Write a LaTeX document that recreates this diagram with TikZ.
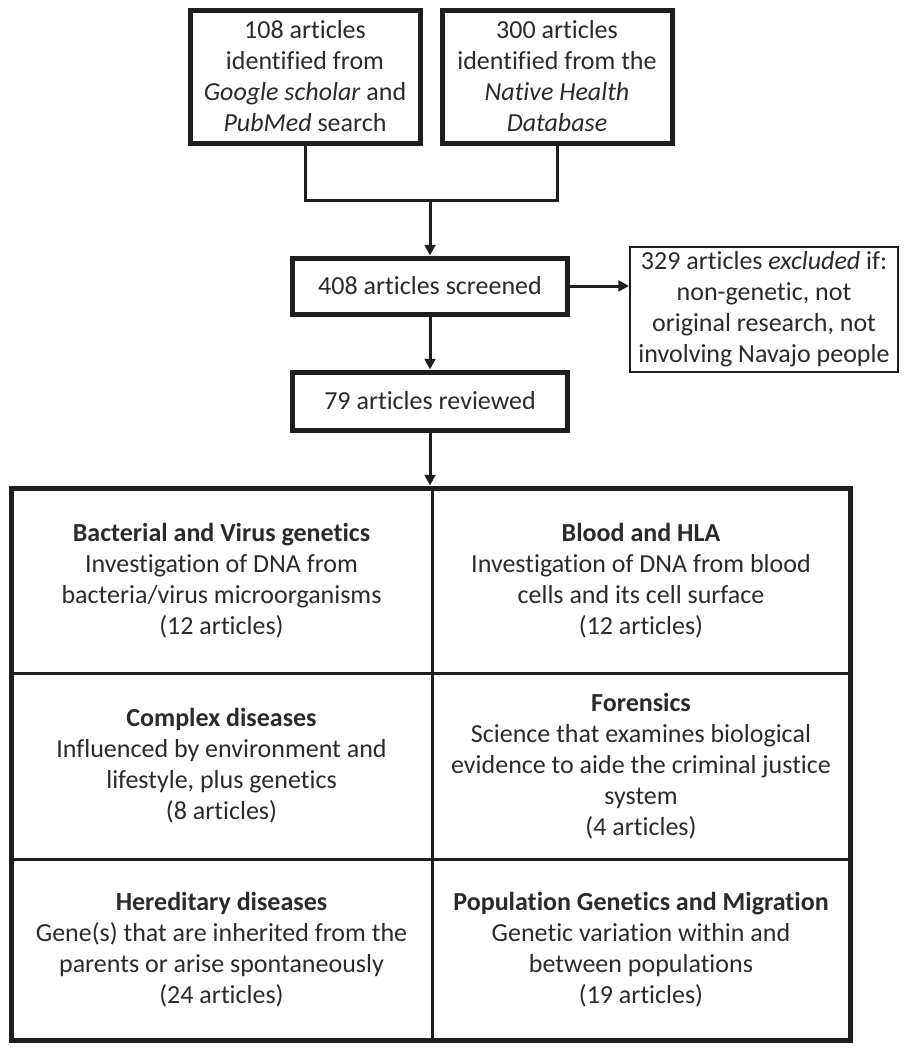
\documentclass[tikz,border=0pt]{standalone}
\usepackage{fontspec}
\setmainfont[Ligatures={NoCommon}]{Carlito}
\usetikzlibrary{arrows.meta}
\definecolor{ln}{HTML}{1E1E1E}
\definecolor{txt}{HTML}{2A2A2A}
\begin{document}
\begin{tikzpicture}[x=0.75pt,y=-0.75pt,
  every node/.style={font=\fontsize{19.5}{23.25}\selectfont, text=txt, align=center, inner sep=0pt},
  thickbox/.style={draw=ln, line width=3.75pt},
  thinbox/.style={draw=ln, line width=1.5pt},
  cell/.style={draw=ln, line width=2.25pt},
  conn/.style={draw=ln, line width=2.25pt},
  arr/.style={conn, -{Triangle[length=8pt,width=8pt]}}
]
\useasboundingbox (0,0) rectangle (908,1050);

\node[thickbox, minimum width=172.5pt, minimum height=99.75pt] (b1) at (305,76.5)
  {108 articles\\identified from\\\textit{Google scholar} and\\\textit{PubMed} search};
\node[thickbox, minimum width=172.5pt, minimum height=99.75pt] (b2) at (557,76.5)
  {300 articles\\identified from the\\\textit{Native Health}\\\textit{Database}};

\node[thickbox, minimum width=206.25pt, minimum height=42pt] (s) at (430,286) {408 articles screened};
\node[thinbox, minimum width=201pt, minimum height=93.75pt] (x) at (764,309.5)
  {329 articles \textit{excluded} if:\\non-genetic, not\\original research, not\\involving Navajo people};
\node[thickbox, minimum width=206.25pt, minimum height=43.5pt] (r) at (430,401) {79 articles reviewed};

% table cells
\node[cell, minimum width=315.75pt, minimum height=138.75pt] (c11) at (221.5,580.5)
  {\textbf{Bacterial and Virus genetics}\\Investigation of DNA from\\bacteria/virus microorganisms\\(12 articles)};
\node[cell, minimum width=313.5pt, minimum height=138.75pt] (c12) at (641,580.5)
  {\textbf{Blood and HLA}\\Investigation of DNA from blood\\cells and its cell surface\\(12 articles)};
\node[cell, minimum width=315.75pt, minimum height=139.5pt] (c21) at (221.5,766)
  {\textbf{Complex diseases}\\Influenced by environment and\\lifestyle, plus genetics\\(8 articles)};
\node[cell, minimum width=313.5pt, minimum height=139.5pt] (c22) at (641,766)
  {\textbf{Forensics}\\Science that examines biological\\evidence to aide the criminal justice\\system\\(4 articles)};
\node[cell, minimum width=315.75pt, minimum height=135.75pt] (c31) at (221.5,949.5)
  {\textbf{Hereditary diseases}\\Gene(s) that are inherited from the\\parents or arise spontaneously\\(24 articles)};
\node[cell, minimum width=313.5pt, minimum height=135.75pt] (c32) at (641,949.5)
  {\textbf{Population Genetics and Migration}\\Genetic variation within and\\between populations\\(19 articles)};
\node[thickbox, minimum width=629.25pt, minimum height=414pt] (t) at (430.5,764) {};

% connectors
\coordinate (j) at (430,200);
\draw[conn] (b1.south) -- (b1.south |- j) -- (b2.south |- j) -- (b2.south);
\draw[arr] (j) -- (s.north);
\draw[arr] (s.east) -- (s.east -| x.west);
\draw[arr] (s.south) -- (r.north);
\draw[arr] (r.south) -- (r.south |- t.north);
\end{tikzpicture}
\end{document}
